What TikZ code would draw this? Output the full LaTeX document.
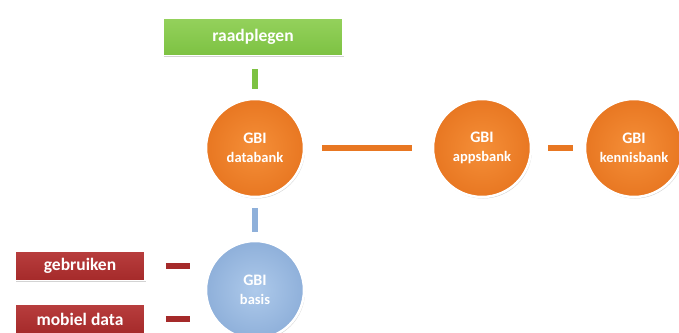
\documentclass[tikz,border=0pt]{standalone}
\usepackage{fontspec}
\setmainfont{Carlito}
\usetikzlibrary{shadows}

\definecolor{gbiorange}{rgb}{0.910000, 0.467000, 0.133000}
\definecolor{gbiorangelight}{rgb}{0.960000, 0.560000, 0.220000}
\definecolor{gbiblue}{rgb}{0.560000, 0.690000, 0.855000}
\definecolor{gbibluelight}{rgb}{0.680000, 0.790000, 0.920000}
\definecolor{gbigreen}{rgb}{0.490000, 0.760000, 0.260000}
\definecolor{gbigreenlight}{rgb}{0.580000, 0.820000, 0.360000}
\definecolor{gbired}{rgb}{0.647000, 0.165000, 0.165000}
\definecolor{gbiredlight}{rgb}{0.720000, 0.240000, 0.240000}

\tikzset{
  bol/.style={circle, minimum size=98pt, inner sep=0pt, draw=white, line width=2.5pt,
    drop shadow={shadow xshift=1pt, shadow yshift=-1.5pt, opacity=0.35},
    text=white, font=\fontsize{14.5}{19}\selectfont\bfseries, align=center},
  oranjebol/.style={bol, inner color=gbiorangelight, outer color=gbiorange},
  blauwbol/.style={bol, inner color=gbibluelight, outer color=gbiblue},
  knop/.style={rectangle, inner sep=0pt, draw=white, line width=1.5pt,
    drop shadow={shadow xshift=1pt, shadow yshift=-1.5pt, opacity=0.35},
    text=white, font=\fontsize{17.5}{20}\selectfont\bfseries},
  groeneknop/.style={knop, minimum width=180pt, minimum height=37pt,
    top color=gbigreenlight, bottom color=gbigreen},
  rodeknop/.style={knop, minimum width=130pt, minimum height=29pt,
    top color=gbiredlight, bottom color=gbired},
  balk/.style={line width=6pt},
}

\newcommand{\gbi}[1]{{\fontsize{16}{19}\selectfont GBI}\\#1}

\begin{document}
\begin{tikzpicture}[x=1pt, y=-1pt]
\useasboundingbox (0,0) rectangle (679,332);
% knoppen
\node[groeneknop] (raadplegen) at (253,37) {raadplegen};
\node[rodeknop] (gebruiken) at (80,266) {gebruiken};
\node[rodeknop] (mobiel) at (80,319) {mobiel data};
% bollen
\node[oranjebol] (databank) at (255,148) {\gbi{databank}};
\node[oranjebol] (appsbank) at (482,148) {\gbi{appsbank}};
\node[oranjebol] (kennisbank) at (634,148) {\gbi{kennisbank}};
\node[blauwbol] (basis) at (255,290) {\gbi{basis}};
% verbindingen
\draw[balk, gbigreen, shorten <=13pt, shorten >=9pt] (raadplegen.south -| databank) -- (databank);
\draw[balk, gbiorange, shorten <=17pt, shorten >=20pt] (databank) -- (appsbank);
\draw[balk, gbiorange, shorten <=16pt, shorten >=11pt] (appsbank) -- (kennisbank);
\draw[balk, gbiblue, shorten <=10pt, shorten >=8pt] (databank) -- (basis);
\draw[balk, gbired, shorten <=20pt, shorten >=15pt] (gebruiken.east) -- (gebruiken.east -| basis.west);
\draw[balk, gbired, shorten <=20pt, shorten >=15pt] (mobiel.east) -- (mobiel.east -| basis.west);
\end{tikzpicture}
\end{document}
